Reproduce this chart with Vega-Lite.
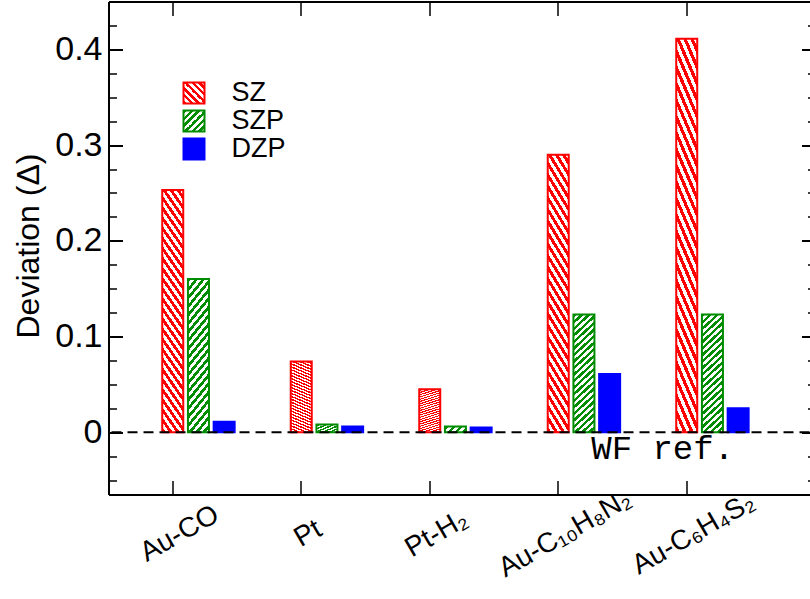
{
  "$schema": "https://vega.github.io/schema/vega-lite/v6.json",
  "width": 701,
  "height": 493,
  "autosize": {"type": "none"},
  "padding": {"left": 108.5, "top": 1.5, "right": 0.5, "bottom": 104.5},
  "background": "white",
  "config": {"view": {"stroke": null}, "font": "Liberation Sans"},
  "datasets": {
    "bars": [
      {"category": "Au-CO", "series": "SZ", "value": 0.253},
      {"category": "Au-CO", "series": "SZP", "value": 0.160},
      {"category": "Au-CO", "series": "DZP", "value": 0.011},
      {"category": "Pt", "series": "SZ", "value": 0.074},
      {"category": "Pt", "series": "SZP", "value": 0.008},
      {"category": "Pt", "series": "DZP", "value": 0.006},
      {"category": "Pt-H₂", "series": "SZ", "value": 0.045},
      {"category": "Pt-H₂", "series": "SZP", "value": 0.006},
      {"category": "Pt-H₂", "series": "DZP", "value": 0.005},
      {"category": "Au-C₁₀H₈N₂", "series": "SZ", "value": 0.290},
      {"category": "Au-C₁₀H₈N₂", "series": "SZP", "value": 0.123},
      {"category": "Au-C₁₀H₈N₂", "series": "DZP", "value": 0.061},
      {"category": "Au-C₆H₄S₂", "series": "SZ", "value": 0.411},
      {"category": "Au-C₆H₄S₂", "series": "SZP", "value": 0.123},
      {"category": "Au-C₆H₄S₂", "series": "DZP", "value": 0.025}
    ],
    "note": [{"category": "Au-C₁₀H₈N₂", "value": -0.028, "label": "WF ref."}],
    "zero": [{"v": 0}]
  },
  "layer": [
    {
      "data": {"name": "bars"},
      "mark": {"type": "bar", "strokeWidth": 2},
      "encoding": {
        "x": {
          "field": "category", "type": "nominal", "sort": null,
          "scale": {"type": "band", "domain": ["Au-CO", "Pt", "Pt-H₂", "Au-C₁₀H₈N₂", "Au-C₆H₄S₂"], "paddingInner": 0, "paddingOuter": 0.2277, "align": 0},
          "axis": {"orient": "bottom", "title": null, "grid": false, "domain": true, "domainColor": "black", "domainWidth": 2,
            "ticks": true, "tickSize": -14, "tickColor": "black", "tickWidth": 1.5,
            "labelAngle": -30, "labelAlign": "center", "labelBaseline": "middle", "labelPadding": 53, "labelOffset": 7,
            "labelFontSize": 28, "labelColor": "black", "labelOverlap": false, "labelFlush": false, "labelBound": false, "labelLimit": 0}
        },
        "xOffset": {"field": "series", "type": "nominal", "scale": {"domain": ["_a", "_b", "SZ", "SZP", "DZP"], "paddingInner": 0.183, "paddingOuter": 0.0915}},
        "y": {
          "field": "value", "type": "quantitative",
          "scale": {"domain": [-0.065, 0.45], "nice": false, "zero": false},
          "axis": {"orient": "left", "values": [0, 0.1, 0.2, 0.3, 0.4], "format": ".1~f", "grid": false,
            "domain": true, "domainColor": "black", "domainWidth": 2,
            "tickSize": -14, "tickColor": "black", "tickWidth": 2,
            "labelPadding": 20.5, "labelFontSize": 34, "labelColor": "black", "labelFlush": false, "labelOverlap": false,
            "title": "Deviation (Δ)", "titleFontSize": 32, "titleFontWeight": "normal", "titleColor": "black",
            "titleX": -80.5, "titleY": 244, "titleBaseline": "middle", "titleAngle": -90, "titleAlign": "center"}
        },
        "fill": {
          "condition": [
            {"test": "datum.series === 'SZ'", "value": {"gradient": "linear", "x1": 0, "y1": 1, "x2": 0.138462, "y2": -0.107692, "stops": [
              {"offset": 0, "color": "#ff0000"}, {"offset": 0.018519, "color": "#ff0000"}, {"offset": 0.018519, "color": "#ffffff"}, {"offset": 0.037037, "color": "#ffffff"},
              {"offset": 0.037037, "color": "#ff0000"}, {"offset": 0.055556, "color": "#ff0000"}, {"offset": 0.055556, "color": "#ffffff"}, {"offset": 0.074074, "color": "#ffffff"},
              {"offset": 0.074074, "color": "#ff0000"}, {"offset": 0.092593, "color": "#ff0000"}, {"offset": 0.092593, "color": "#ffffff"}, {"offset": 0.111111, "color": "#ffffff"},
              {"offset": 0.111111, "color": "#ff0000"}, {"offset": 0.129630, "color": "#ff0000"}, {"offset": 0.129630, "color": "#ffffff"}, {"offset": 0.148148, "color": "#ffffff"},
              {"offset": 0.148148, "color": "#ff0000"}, {"offset": 0.166667, "color": "#ff0000"}, {"offset": 0.166667, "color": "#ffffff"}, {"offset": 0.185185, "color": "#ffffff"},
              {"offset": 0.185185, "color": "#ff0000"}, {"offset": 0.203704, "color": "#ff0000"}, {"offset": 0.203704, "color": "#ffffff"}, {"offset": 0.222222, "color": "#ffffff"},
              {"offset": 0.222222, "color": "#ff0000"}, {"offset": 0.240741, "color": "#ff0000"}, {"offset": 0.240741, "color": "#ffffff"}, {"offset": 0.259259, "color": "#ffffff"},
              {"offset": 0.259259, "color": "#ff0000"}, {"offset": 0.277778, "color": "#ff0000"}, {"offset": 0.277778, "color": "#ffffff"}, {"offset": 0.296296, "color": "#ffffff"},
              {"offset": 0.296296, "color": "#ff0000"}, {"offset": 0.314815, "color": "#ff0000"}, {"offset": 0.314815, "color": "#ffffff"}, {"offset": 0.333333, "color": "#ffffff"},
              {"offset": 0.333333, "color": "#ff0000"}, {"offset": 0.351852, "color": "#ff0000"}, {"offset": 0.351852, "color": "#ffffff"}, {"offset": 0.370370, "color": "#ffffff"},
              {"offset": 0.370370, "color": "#ff0000"}, {"offset": 0.388889, "color": "#ff0000"}, {"offset": 0.388889, "color": "#ffffff"}, {"offset": 0.407407, "color": "#ffffff"},
              {"offset": 0.407407, "color": "#ff0000"}, {"offset": 0.425926, "color": "#ff0000"}, {"offset": 0.425926, "color": "#ffffff"}, {"offset": 0.444444, "color": "#ffffff"},
              {"offset": 0.444444, "color": "#ff0000"}, {"offset": 0.462963, "color": "#ff0000"}, {"offset": 0.462963, "color": "#ffffff"}, {"offset": 0.481481, "color": "#ffffff"},
              {"offset": 0.481481, "color": "#ff0000"}, {"offset": 0.500000, "color": "#ff0000"}, {"offset": 0.500000, "color": "#ffffff"}, {"offset": 0.518519, "color": "#ffffff"},
              {"offset": 0.518519, "color": "#ff0000"}, {"offset": 0.537037, "color": "#ff0000"}, {"offset": 0.537037, "color": "#ffffff"}, {"offset": 0.555556, "color": "#ffffff"},
              {"offset": 0.555556, "color": "#ff0000"}, {"offset": 0.574074, "color": "#ff0000"}, {"offset": 0.574074, "color": "#ffffff"}, {"offset": 0.592593, "color": "#ffffff"},
              {"offset": 0.592593, "color": "#ff0000"}, {"offset": 0.611111, "color": "#ff0000"}, {"offset": 0.611111, "color": "#ffffff"}, {"offset": 0.629630, "color": "#ffffff"},
              {"offset": 0.629630, "color": "#ff0000"}, {"offset": 0.648148, "color": "#ff0000"}, {"offset": 0.648148, "color": "#ffffff"}, {"offset": 0.666667, "color": "#ffffff"},
              {"offset": 0.666667, "color": "#ff0000"}, {"offset": 0.685185, "color": "#ff0000"}, {"offset": 0.685185, "color": "#ffffff"}, {"offset": 0.703704, "color": "#ffffff"},
              {"offset": 0.703704, "color": "#ff0000"}, {"offset": 0.722222, "color": "#ff0000"}, {"offset": 0.722222, "color": "#ffffff"}, {"offset": 0.740741, "color": "#ffffff"},
              {"offset": 0.740741, "color": "#ff0000"}, {"offset": 0.759259, "color": "#ff0000"}, {"offset": 0.759259, "color": "#ffffff"}, {"offset": 0.777778, "color": "#ffffff"},
              {"offset": 0.777778, "color": "#ff0000"}, {"offset": 0.796296, "color": "#ff0000"}, {"offset": 0.796296, "color": "#ffffff"}, {"offset": 0.814815, "color": "#ffffff"},
              {"offset": 0.814815, "color": "#ff0000"}, {"offset": 0.833333, "color": "#ff0000"}, {"offset": 0.833333, "color": "#ffffff"}, {"offset": 0.851852, "color": "#ffffff"},
              {"offset": 0.851852, "color": "#ff0000"}, {"offset": 0.870370, "color": "#ff0000"}, {"offset": 0.870370, "color": "#ffffff"}, {"offset": 0.888889, "color": "#ffffff"},
              {"offset": 0.888889, "color": "#ff0000"}, {"offset": 0.907407, "color": "#ff0000"}, {"offset": 0.907407, "color": "#ffffff"}, {"offset": 0.925926, "color": "#ffffff"},
              {"offset": 0.925926, "color": "#ff0000"}, {"offset": 0.944444, "color": "#ff0000"}, {"offset": 0.944444, "color": "#ffffff"}, {"offset": 0.962963, "color": "#ffffff"},
              {"offset": 0.962963, "color": "#ff0000"}, {"offset": 0.981481, "color": "#ff0000"}, {"offset": 0.981481, "color": "#ffffff"}, {"offset": 1, "color": "#ffffff"}
            ]}},
            {"test": "datum.series === 'SZP'", "value": {"gradient": "linear", "x1": 0, "y1": 0, "x2": 0.189189, "y2": 1.135135, "stops": [
              {"offset": 0, "color": "#008c00"}, {"offset": 0.023810, "color": "#008c00"}, {"offset": 0.023810, "color": "#ffffff"}, {"offset": 0.047619, "color": "#ffffff"},
              {"offset": 0.047619, "color": "#008c00"}, {"offset": 0.071429, "color": "#008c00"}, {"offset": 0.071429, "color": "#ffffff"}, {"offset": 0.095238, "color": "#ffffff"},
              {"offset": 0.095238, "color": "#008c00"}, {"offset": 0.119048, "color": "#008c00"}, {"offset": 0.119048, "color": "#ffffff"}, {"offset": 0.142857, "color": "#ffffff"},
              {"offset": 0.142857, "color": "#008c00"}, {"offset": 0.166667, "color": "#008c00"}, {"offset": 0.166667, "color": "#ffffff"}, {"offset": 0.190476, "color": "#ffffff"},
              {"offset": 0.190476, "color": "#008c00"}, {"offset": 0.214286, "color": "#008c00"}, {"offset": 0.214286, "color": "#ffffff"}, {"offset": 0.238095, "color": "#ffffff"},
              {"offset": 0.238095, "color": "#008c00"}, {"offset": 0.261905, "color": "#008c00"}, {"offset": 0.261905, "color": "#ffffff"}, {"offset": 0.285714, "color": "#ffffff"},
              {"offset": 0.285714, "color": "#008c00"}, {"offset": 0.309524, "color": "#008c00"}, {"offset": 0.309524, "color": "#ffffff"}, {"offset": 0.333333, "color": "#ffffff"},
              {"offset": 0.333333, "color": "#008c00"}, {"offset": 0.357143, "color": "#008c00"}, {"offset": 0.357143, "color": "#ffffff"}, {"offset": 0.380952, "color": "#ffffff"},
              {"offset": 0.380952, "color": "#008c00"}, {"offset": 0.404762, "color": "#008c00"}, {"offset": 0.404762, "color": "#ffffff"}, {"offset": 0.428571, "color": "#ffffff"},
              {"offset": 0.428571, "color": "#008c00"}, {"offset": 0.452381, "color": "#008c00"}, {"offset": 0.452381, "color": "#ffffff"}, {"offset": 0.476190, "color": "#ffffff"},
              {"offset": 0.476190, "color": "#008c00"}, {"offset": 0.500000, "color": "#008c00"}, {"offset": 0.500000, "color": "#ffffff"}, {"offset": 0.523810, "color": "#ffffff"},
              {"offset": 0.523810, "color": "#008c00"}, {"offset": 0.547619, "color": "#008c00"}, {"offset": 0.547619, "color": "#ffffff"}, {"offset": 0.571429, "color": "#ffffff"},
              {"offset": 0.571429, "color": "#008c00"}, {"offset": 0.595238, "color": "#008c00"}, {"offset": 0.595238, "color": "#ffffff"}, {"offset": 0.619048, "color": "#ffffff"},
              {"offset": 0.619048, "color": "#008c00"}, {"offset": 0.642857, "color": "#008c00"}, {"offset": 0.642857, "color": "#ffffff"}, {"offset": 0.666667, "color": "#ffffff"},
              {"offset": 0.666667, "color": "#008c00"}, {"offset": 0.690476, "color": "#008c00"}, {"offset": 0.690476, "color": "#ffffff"}, {"offset": 0.714286, "color": "#ffffff"},
              {"offset": 0.714286, "color": "#008c00"}, {"offset": 0.738095, "color": "#008c00"}, {"offset": 0.738095, "color": "#ffffff"}, {"offset": 0.761905, "color": "#ffffff"},
              {"offset": 0.761905, "color": "#008c00"}, {"offset": 0.785714, "color": "#008c00"}, {"offset": 0.785714, "color": "#ffffff"}, {"offset": 0.809524, "color": "#ffffff"},
              {"offset": 0.809524, "color": "#008c00"}, {"offset": 0.833333, "color": "#008c00"}, {"offset": 0.833333, "color": "#ffffff"}, {"offset": 0.857143, "color": "#ffffff"},
              {"offset": 0.857143, "color": "#008c00"}, {"offset": 0.880952, "color": "#008c00"}, {"offset": 0.880952, "color": "#ffffff"}, {"offset": 0.904762, "color": "#ffffff"},
              {"offset": 0.904762, "color": "#008c00"}, {"offset": 0.928571, "color": "#008c00"}, {"offset": 0.928571, "color": "#ffffff"}, {"offset": 0.952381, "color": "#ffffff"},
              {"offset": 0.952381, "color": "#008c00"}, {"offset": 0.976190, "color": "#008c00"}, {"offset": 0.976190, "color": "#ffffff"}, {"offset": 1, "color": "#ffffff"}
            ]}}
          ],
          "value": {"expr": "datum.value === 'SZ' ? {gradient: 'linear', x1: 0, y1: 1, x2: 1, y2: 0, stops: [{offset: 0, color: '#ff0000'}, {offset: 0.0833, color: '#ff0000'}, {offset: 0.0833, color: '#ffffff'}, {offset: 0.1667, color: '#ffffff'}, {offset: 0.1667, color: '#ff0000'}, {offset: 0.25, color: '#ff0000'}, {offset: 0.25, color: '#ffffff'}, {offset: 0.3333, color: '#ffffff'}, {offset: 0.3333, color: '#ff0000'}, {offset: 0.4167, color: '#ff0000'}, {offset: 0.4167, color: '#ffffff'}, {offset: 0.5, color: '#ffffff'}, {offset: 0.5, color: '#ff0000'}, {offset: 0.5833, color: '#ff0000'}, {offset: 0.5833, color: '#ffffff'}, {offset: 0.6667, color: '#ffffff'}, {offset: 0.6667, color: '#ff0000'}, {offset: 0.75, color: '#ff0000'}, {offset: 0.75, color: '#ffffff'}, {offset: 0.8333, color: '#ffffff'}, {offset: 0.8333, color: '#ff0000'}, {offset: 0.9167, color: '#ff0000'}, {offset: 0.9167, color: '#ffffff'}, {offset: 1, color: '#ffffff'}]} : datum.value === 'SZP' ? {gradient: 'linear', x1: 0, y1: 0, x2: 1, y2: 1, stops: [{offset: 0, color: '#008c00'}, {offset: 0.0833, color: '#008c00'}, {offset: 0.0833, color: '#ffffff'}, {offset: 0.1667, color: '#ffffff'}, {offset: 0.1667, color: '#008c00'}, {offset: 0.25, color: '#008c00'}, {offset: 0.25, color: '#ffffff'}, {offset: 0.3333, color: '#ffffff'}, {offset: 0.3333, color: '#008c00'}, {offset: 0.4167, color: '#008c00'}, {offset: 0.4167, color: '#ffffff'}, {offset: 0.5, color: '#ffffff'}, {offset: 0.5, color: '#008c00'}, {offset: 0.5833, color: '#008c00'}, {offset: 0.5833, color: '#ffffff'}, {offset: 0.6667, color: '#ffffff'}, {offset: 0.6667, color: '#008c00'}, {offset: 0.75, color: '#008c00'}, {offset: 0.75, color: '#ffffff'}, {offset: 0.8333, color: '#ffffff'}, {offset: 0.8333, color: '#008c00'}, {offset: 0.9167, color: '#008c00'}, {offset: 0.9167, color: '#ffffff'}, {offset: 1, color: '#ffffff'}]} : '#0000ff'"}
        },
        "stroke": {
          "field": "series", "type": "nominal",
          "scale": {"domain": ["SZ", "SZP", "DZP"], "range": ["#ff0000", "#008c00", "#0000ff"]},
          "legend": {"orient": "none", "legendX": 72, "legendY": 78, "title": null, "symbolType": "square", "symbolSize": 441,
            "symbolStrokeWidth": 2, "symbolOpacity": 1, "labelFontSize": 27, "labelOffset": 24, "rowPadding": -1, "labelColor": "black", "padding": 0}
        }
      }
    },
    {
      "data": {"name": "zero"},
      "mark": {"type": "rule", "strokeDash": [10, 6], "strokeWidth": 2, "color": "black"},
      "encoding": {
        "y": {
          "field": "v", "type": "quantitative",
          "scale": {"domain": [-0.065, 0.45], "nice": false, "zero": false},
          "axis": {"orient": "left", "values": [-0.05, -0.025, 0.025, 0.05, 0.075, 0.125, 0.15, 0.175, 0.225, 0.25, 0.275, 0.325, 0.35, 0.375, 0.425],
            "labels": false, "domain": false, "grid": false, "title": null, "tickSize": -8, "tickColor": "black", "tickWidth": 1.5}
        }
      }
    },
    {
      "data": {"name": "note"},
      "mark": {"type": "text", "font": "Liberation Mono", "fontSize": 34, "align": "left", "baseline": "alphabetic", "dx": 33, "color": "black"},
      "encoding": {
        "x": {
          "field": "category", "type": "nominal", "sort": null,
          "scale": {"type": "band", "domain": ["Au-CO", "Pt", "Pt-H₂", "Au-C₁₀H₈N₂", "Au-C₆H₄S₂"], "paddingInner": 0, "paddingOuter": 0.2277, "align": 0},
          "axis": {"orient": "top", "title": null, "labels": false, "grid": false, "domain": true, "domainColor": "black", "domainWidth": 2,
            "tickSize": -14, "tickColor": "black", "tickWidth": 1.5}
        },
        "y": {
          "field": "value", "type": "quantitative",
          "scale": {"domain": [-0.065, 0.45], "nice": false, "zero": false},
          "axis": {"orient": "right", "values": [0, 0.1, 0.2, 0.3, 0.4], "labels": false, "domain": false, "grid": false, "title": null,
            "tickSize": -8, "tickColor": "black", "tickWidth": 2}
        },
        "text": {"field": "label"}
      }
    },
    {
      "data": {"name": "zero"},
      "mark": {"type": "rule", "strokeOpacity": 0},
      "encoding": {
        "y": {
          "field": "v", "type": "quantitative",
          "scale": {"domain": [-0.065, 0.45], "nice": false, "zero": false},
          "axis": {"orient": "right", "values": [-0.05, -0.025, 0.025, 0.05, 0.075, 0.125, 0.15, 0.175, 0.225, 0.25, 0.275, 0.325, 0.35, 0.375, 0.425],
            "labels": false, "domain": false, "grid": false, "title": null, "tickSize": -2, "tickColor": "black", "tickWidth": 1.5}
        }
      }
    }
  ],
  "resolve": {"scale": {"x": "independent", "y": "independent"}}
}
